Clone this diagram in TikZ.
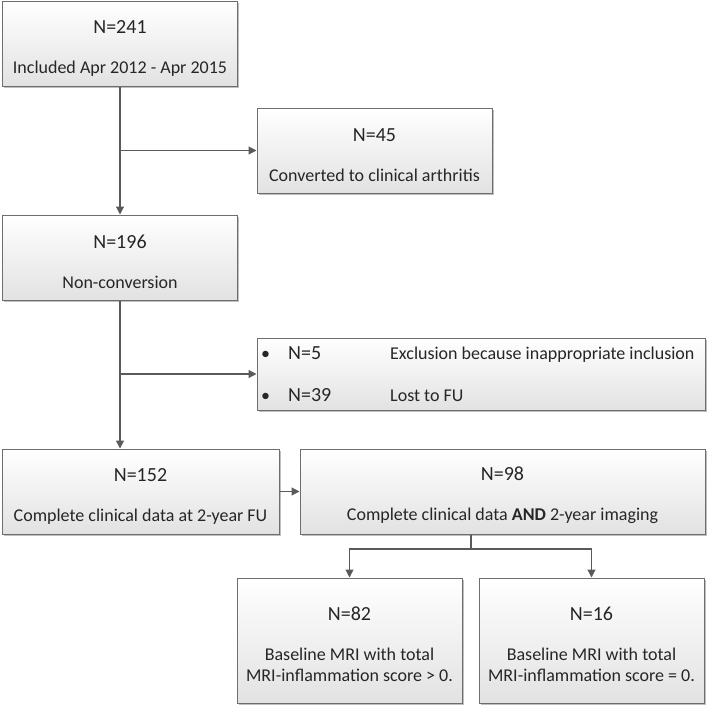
\documentclass[tikz,border=0pt]{standalone}
\usepackage{fontspec}
\setmainfont{Carlito}
\usetikzlibrary{arrows.meta,shadows}
\definecolor{edgegray}{HTML}{6E6E6E}
\definecolor{linegray}{HTML}{5A5A5A}
\definecolor{boxbottom}{HTML}{E2E2E2}
\definecolor{textgray}{HTML}{262626}
\newcommand{\countsize}{\fontsize{20}{24}\selectfont\rule{0pt}{22pt}}

\begin{document}
\begin{tikzpicture}[x=1pt,y=-1pt,
  flowbox/.style={draw=edgegray, line width=1pt, top color=white, bottom color=boxbottom,
    drop shadow={shadow xshift=1.5pt, shadow yshift=-1.5pt, fill=black, opacity=0.25},
    inner sep=0pt, align=center, text=textgray, font=\fontsize{18}{21}\selectfont},
  flow/.style={draw=linegray, line width=1.2pt, -{Triangle[length=8pt,width=8pt]}},
  itemtext/.style={anchor=base west, inner sep=0pt, text=textgray, font=\fontsize{18}{21}\selectfont}]
\useasboundingbox (0,0) rectangle (709,709);
% left column
\node[flowbox, minimum width=235pt, minimum height=84pt] (b241) at (120,44)
  {\countsize N=241\\[19pt]Included Apr 2012 - Apr 2015};
\node[flowbox, minimum width=235pt, minimum height=85pt] (b45) at (374.5,150.5)
  {\countsize N=45\\[19pt]Converted to clinical arthritis};
\node[flowbox, minimum width=235pt, minimum height=85pt] (b196) at (120,257.5)
  {\countsize N=196\\[19pt]Non-conversion};
% exclusions
\node[flowbox, minimum width=448pt, minimum height=72pt] (bexc) at (481,374) {};
\node[itemtext] (dot1) at (261,359) {•};
\node[itemtext] (dot2) at (261,401) {•};
\node[itemtext, font=\fontsize{20}{24}\selectfont] (n5) at (288,359) {N=5};
\node[itemtext, font=\fontsize{20}{24}\selectfont] (n39) at (288,401) {N=39};
\node[itemtext] (excl) at (390,359) {Exclusion because inappropriate inclusion};
\node[itemtext] (lost) at (390,401) {Lost to FU};
% follow-up
\node[flowbox, minimum width=277pt, minimum height=85pt] (b152) at (140.5,491.5)
  {\countsize N=152\\[19pt]Complete clinical data at 2-year FU};
\node[flowbox, minimum width=405pt, minimum height=85pt] (b98) at (502.5,491.5)
  {\countsize N=98\\[19pt]Complete clinical data \textbf{AND} 2-year imaging};
% MRI
\node[flowbox, minimum width=225pt, minimum height=125pt] (b82) at (349.5,640.5)
  {\countsize N=82\\[19pt]Baseline MRI with total\\MRI-inflammation score > 0.};
\node[flowbox, minimum width=225pt, minimum height=125pt] (b16) at (591.5,640.5)
  {\countsize N=16\\[19pt]Baseline MRI with total\\MRI-inflammation score = 0.};
% arrows
\coordinate (j1) at (b241.south |- b45.west);
\coordinate (j2) at (b196.south |- bexc.west);
\coordinate (split) at (471,549);
\draw[flow] (b241.south) -- (b196.north);
\draw[flow] (j1) -- (b45.west);
\draw[flow] (b196.south) -- (b196.south |- b152.north);
\draw[flow] (j2) -- (bexc.west);
\draw[flow] (b152.east) -- (b98.west);
\draw[draw=linegray, line width=1.2pt] (split |- b98.south) -- (split);
\draw[flow] (split) -| (b82.north);
\draw[flow] (split) -| (b16.north);
\end{tikzpicture}
\end{document}
